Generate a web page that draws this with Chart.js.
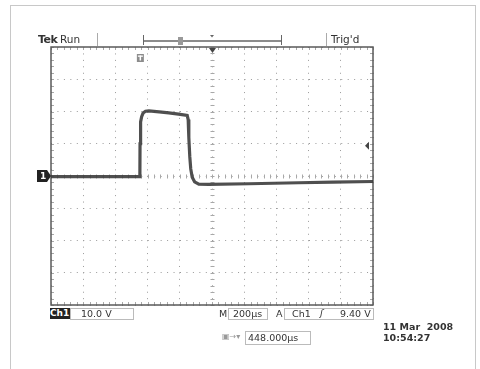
<!DOCTYPE html>
<html>
<head>
<meta charset="utf-8">
<script src="https://cdn.jsdelivr.net/npm/chart.js@4.4.0/dist/chart.umd.min.js"></script>
<style>
  body { margin: 0; background: #fff; }
  #wrap { position: relative; width: 480px; height: 369px; overflow: hidden; font-family: "DejaVu Sans", sans-serif; color: #333; }
  #wrap canvas { position: absolute; left: 0; top: 0; }
  .t { position: absolute; white-space: nowrap; line-height: 1; font-size: 9.5px; }
  .box { position: absolute; border: 1px solid #bbb; box-sizing: border-box; }
  .vl { position: absolute; width: 1px; background: #aaa; }
</style>
</head>
<body>
<div id="wrap">
  <div class="box" style="left:10px;top:5px;width:466px;height:380px;border-color:#c8c8c8"></div>
  <div style="position:absolute;left:0;top:0;width:480px;height:369px"><canvas id="scope"></canvas></div>

  <!-- top status bar -->
  <div class="t" style="left:38px;top:34px;font-size:11px;font-weight:bold;letter-spacing:-0.5px">Tek</div>
  <div class="t" style="left:60px;top:34px;font-size:10.5px">Run</div>
  <div class="vl" style="left:97px;top:33px;height:13px"></div>
  <div class="vl" style="left:326px;top:33px;height:13px"></div>
  <div class="t" style="left:331px;top:34px;font-size:10.5px">Trig'd</div>

  <!-- bottom readouts -->
  <div class="t" style="left:50px;top:308px;width:20px;height:11px;background:#222;color:#fff;font-weight:bold;font-size:9px;padding-top:1px;box-sizing:border-box">Ch1</div>
  <div class="box" style="left:70px;top:308px;width:64px;height:12px"></div>
  <div class="t" style="left:81px;top:309px">10.0 V</div>
  <div class="t" style="left:219px;top:309px">M</div>
  <div class="box" style="left:228px;top:308px;width:40px;height:12px"></div>
  <div class="t" style="left:233px;top:309px">200µs</div>
  <div class="t" style="left:276px;top:309px">A</div>
  <div class="box" style="left:284px;top:308px;width:90px;height:12px"></div>
  <div class="t" style="left:292px;top:309px">Ch1</div>
  <div class="t" style="left:320px;top:308px;font-style:italic">ʃ</div>
  <div class="t" style="left:340px;top:309px">9.40 V</div>

  <div class="t" style="left:222px;top:333px;color:#999;font-size:8px">▣→▾</div>
  <div class="box" style="left:245px;top:331px;width:66px;height:14px"></div>
  <div class="t" style="left:248px;top:333px">448.000µs</div>

  <div class="t" style="left:383px;top:322px;font-weight:bold;font-size:9.5px">11 Mar&nbsp; 2008</div>
  <div class="t" style="left:383px;top:333px;font-weight:bold;font-size:9.5px">10:54:27</div>
</div>

<script>
// scope settings
const timePerDiv = 200;      // µs
const voltsPerDiv = 10;      // V
const delay = 448;           // µs, trigger to screen centre
const triggerLevel = 9.4;    // V

// Ch1 trace (time in µs from trigger, volts)
const times = [-552, -300, -100, 0, 1, 3, 6, 11, 20, 35, 56, 120, 180, 240, 294, 300, 304, 310, 316, 325, 340, 366, 428, 677, 987, 1200, 1448];
const volts = [-0.2, -0.2, -0.2, -0.2, 10, 14.5, 16.8, 18.4, 19.5, 20.1, 20.2, 19.9, 19.6, 19.2, 18.8, 17.5, 12, 6, 2.2, -0.4, -1.8, -2.5, -2.6, -2.4, -2.1, -1.9, -1.7];

const xMin = delay - 5 * timePerDiv;
const xMax = delay + 5 * timePerDiv;
const xDivs = Array.from({length: 11}, (_, i) => xMin + i * timePerDiv);
const yDivs = Array.from({length: 9}, (_, i) => (i - 4) * voltsPerDiv);

const trace = times.map((t, i) => ({x: t, y: volts[i]}));

// frame, centre-line ticks and the little screen markers
const scopeMarks = {
  id: "scopeMarks",
  beforeDatasetsDraw(chart) {
    const {ctx, chartArea: a, scales: {x, y}} = chart;
    const xc = Math.round(x.getPixelForValue(delay)) + 0.5;
    const yc = Math.round(y.getPixelForValue(0)) + 0.5;
    ctx.save();
    ctx.strokeStyle = "#a8a8a8";
    ctx.lineWidth = 1;
    ctx.beginPath();
    for (let t = xMin; t <= xMax + 1; t += timePerDiv / 5) {
      const px = Math.round(x.getPixelForValue(t)) + 0.5;
      ctx.moveTo(px, a.top); ctx.lineTo(px, a.top + 3);
      ctx.moveTo(px, a.bottom); ctx.lineTo(px, a.bottom - 3);
      ctx.moveTo(px, yc - 2); ctx.lineTo(px, yc + 2);
    }
    for (let v = -40; v <= 40; v += voltsPerDiv / 5) {
      const py = Math.round(y.getPixelForValue(v)) + 0.5;
      ctx.moveTo(a.left, py); ctx.lineTo(a.left + 3, py);
      ctx.moveTo(a.right, py); ctx.lineTo(a.right - 3, py);
      ctx.moveTo(xc - 2, py); ctx.lineTo(xc + 2, py);
    }
    ctx.stroke();
    ctx.strokeStyle = "#5a5a5a";
    ctx.lineWidth = 1.5;
    ctx.strokeRect(a.left, a.top, a.width, a.height);
    ctx.restore();
  },
  afterDatasetsDraw(chart) {
    const {ctx, chartArea: a, scales: {x, y}} = chart;
    const xt = x.getPixelForValue(0);
    const xc = x.getPixelForValue(delay);
    const y0 = y.getPixelForValue(0);
    const yl = y.getPixelForValue(triggerLevel);
    ctx.save();
    // trigger position "T"
    ctx.fillStyle = "#8c8c8c";
    ctx.fillRect(xt - 3, 54, 7, 8);
    ctx.fillStyle = "#fff";
    ctx.fillRect(xt - 2, 55.5, 5, 1.3);
    ctx.fillRect(xt - 0.3, 55.5, 1.5, 5);
    // expansion point marker at top of centre line
    ctx.fillStyle = "#444";
    ctx.beginPath();
    ctx.moveTo(xc - 3, a.top + 1); ctx.lineTo(xc + 4, a.top + 1); ctx.lineTo(xc + 0.5, a.top + 6);
    ctx.fill();
    // trigger level arrow
    ctx.beginPath();
    ctx.moveTo(a.right - 8, yl); ctx.lineTo(a.right - 4, yl - 4); ctx.lineTo(a.right - 4, yl + 4);
    ctx.fill();
    // Ch1 ground marker
    ctx.fillStyle = "#222";
    ctx.beginPath();
    ctx.moveTo(37, y0 - 6); ctx.lineTo(47, y0 - 6); ctx.lineTo(51, y0); ctx.lineTo(47, y0 + 6); ctx.lineTo(37, y0 + 6);
    ctx.fill();
    ctx.fillStyle = "#fff";
    ctx.font = "bold 9px 'DejaVu Sans'";
    ctx.textBaseline = "middle";
    ctx.fillText("1", 40, y0 + 0.5);
    // record view bracket in the top bar
    ctx.strokeStyle = "#666";
    ctx.lineWidth = 1;
    ctx.beginPath();
    ctx.moveTo(143.5, 35); ctx.lineTo(143.5, 45);
    ctx.moveTo(281.5, 35); ctx.lineTo(281.5, 45);
    ctx.stroke();
    ctx.lineWidth = 1.6;
    ctx.beginPath();
    ctx.moveTo(143.5, 41); ctx.lineTo(281.5, 41);
    ctx.stroke();
    ctx.fillStyle = "#999";
    ctx.fillRect(178, 37, 5, 8);
    ctx.fillStyle = "#666";
    ctx.beginPath();
    ctx.moveTo(xc - 2, 35); ctx.lineTo(xc + 2, 35); ctx.lineTo(xc, 37.5);
    ctx.fill();
    ctx.restore();
  }
};

new Chart(document.getElementById("scope"), {
  type: "line",
  data: {
    datasets: [{
      label: "Ch1",
      data: trace,
      borderColor: "rgba(60,60,60,0.9)",
      borderWidth: 3.2,
      pointRadius: 0,
      tension: 0,
      fill: false,
    }],
  },
  options: {
    responsive: true,
    maintainAspectRatio: false,
    animation: false,
    layout: { padding: { left: 51, right: 107, top: 47, bottom: 64 } },
    plugins: { legend: { display: false }, tooltip: { enabled: false } },
    scales: {
      x: {
        type: "linear",
        min: xMin,
        max: xMax,
        afterBuildTicks: (s) => { s.ticks = xDivs.map((v) => ({ value: v })); },
        ticks: { display: false },
        grid: { color: "#9a9a9a", lineWidth: 1, drawTicks: false },
        border: { display: false, dash: [1, 5.44] },
      },
      y: {
        min: -40,
        max: 40,
        afterBuildTicks: (s) => { s.ticks = yDivs.map((v) => ({ value: v })); },
        ticks: { display: false },
        grid: { color: "#9a9a9a", lineWidth: 1, drawTicks: false },
        border: { display: false, dash: [1, 5.45] },
      },
    },
  },
  plugins: [scopeMarks],
});
</script>
</body>
</html>
